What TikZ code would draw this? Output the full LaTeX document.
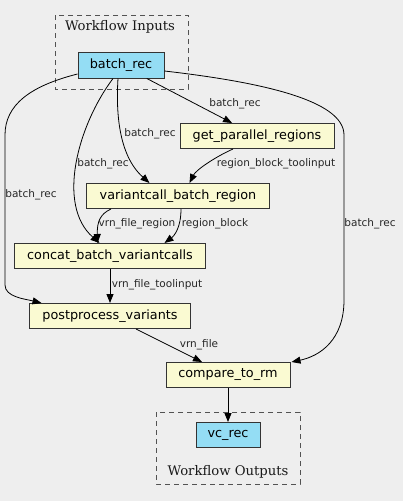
\documentclass[tikz,border=0pt]{standalone}
\usepackage{fontspec}
\setmainfont{DejaVu Sans}
\newfontfamily\clusterfont{DejaVu Serif}
\usetikzlibrary{arrows.meta}
\definecolor{bg}{HTML}{EEEEEE}
\definecolor{inblue}{HTML}{94DDF4}
\definecolor{stepyellow}{HTML}{FAFAD2}
\definecolor{border}{HTML}{333333}
\tikzset{
  box/.style={draw=border, line width=1pt, rectangle, inner sep=0pt, font=\fontsize{12.8}{14}\selectfont},
  iobox/.style={box, fill=inblue},
  stepbox/.style={box, fill=stepyellow},
  cluster/.style={draw=border!85, line width=0.95pt, dash pattern=on 5pt off 4pt},
  clabel/.style={font=\clusterfont\fontsize{13.2}{15}\selectfont, text=black!90},
  elabel/.style={font=\fontsize{10.5}{12}\selectfont, inner sep=0pt, text=black!85},
  edge/.style={draw=black, line width=0.8pt, -{Triangle[length=9pt,width=7pt]}},
}
\begin{document}
\begin{tikzpicture}[x=1pt,y=-1pt]
\fill[bg] (0,0) rectangle (403,501);
\useasboundingbox (0,0) rectangle (403,501);
% clusters
\draw[cluster] (55,15) rectangle (188,89);
\node[clabel] (inlab) at (120,27) {Workflow Inputs};
\draw[cluster] (156,412) rectangle (300,484);
\node[clabel] (outlab) at (228,472) {Workflow Outputs};
% nodes
\node[iobox, minimum width=86pt, minimum height=26pt] (br) at (121,65) {batch\_rec};
\node[stepbox, minimum width=154pt, minimum height=25pt] (gpr) at (257,136) {get\_parallel\_regions};
\node[stepbox, minimum width=183pt, minimum height=25pt] (vbr) at (178,196) {variantcall\_batch\_region};
\node[stepbox, minimum width=191pt, minimum height=25pt] (cbv) at (110,256) {concat\_batch\_variantcalls};
\node[stepbox, minimum width=161pt, minimum height=25pt] (pv) at (110,316) {postprocess\_variants};
\node[stepbox, minimum width=124pt, minimum height=25pt] (ctr) at (228,375) {compare\_to\_rm};
\node[iobox, minimum width=64pt, minimum height=25pt] (vc) at (228,435) {vc\_rec};
% edges
\draw[edge] (br) -- (gpr) node[elabel, at={(235,104)}] {batch\_rec};
\draw[edge] (br.south) ++(-3,0) .. controls +(-2,32) and (118,155) .. ([xshift=63.5pt]vbr.north west)
  node[elabel, at={(150,134)}] {batch\_rec};
\draw[edge] (br.south) ++(-8,0) .. controls (78,125) and (56,205) .. ([xshift=85.5pt]cbv.north west)
  node[elabel, at={(103,164)}] {batch\_rec};
\draw[edge] (br.west) ++(0,9) .. controls (30,86) and (5,105) .. (5,135) -- (5,285)
  .. controls (5,297) and (25,299) .. ([xshift=12.5pt]pv.north west)
  node[elabel, at={(31,195)}] {batch\_rec};
\draw[edge] (br.east) ++(0,6) .. controls (260,82) and (344,100) .. (344,135) -- (344,300)
  .. controls (344,340) and (320,356) .. ([xshift=1pt]ctr.north east)
  node[elabel, at={(370,224)}] {batch\_rec};
\draw[edge] (gpr.south) ++(-24,0) .. controls (215,157) and (196,170) .. ([xshift=103.5pt]vbr.north west)
  node[elabel, at={(276,164)}] {region\_block\_toolinput};
\draw[edge] (vbr.south west) ++(25,0) .. controls (100,214) and (97,222) .. ([xshift=83.5pt]cbv.north west)
  node[elabel, at={(137,224)}] {vrn\_file\_region};
\draw[edge] (vbr.south) ++(3,0) .. controls (181,228) and (174,236) .. ([xshift=150.5pt]cbv.north west)
  node[elabel, at={(215,224)}] {region\_block};
\draw[edge] (cbv) -- (pv) node[elabel, at={(157,285)}] {vrn\_file\_toolinput};
\draw[edge] (pv) -- (ctr) node[elabel, at={(199,345)}] {vrn\_file};
\draw[edge] (ctr) -- (vc);
\end{tikzpicture}
\end{document}
